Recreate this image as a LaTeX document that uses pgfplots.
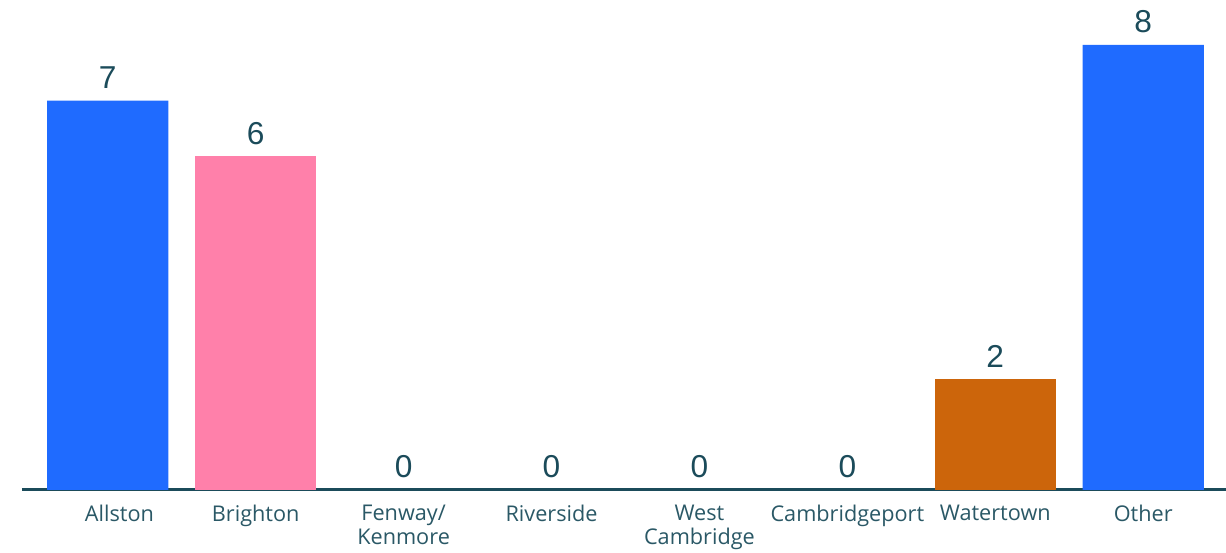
\documentclass[border=0pt]{standalone}
\usepackage{pgfplots}
\pgfplotsset{compat=1.18}
\usepackage{fontspec}
\setmainfont{Open Sans}
\newfontfamily\numfont{Liberation Sans}
\definecolor{cblue}{HTML}{1F6BFF}
\definecolor{cpink}{HTML}{FF80AA}
\definecolor{corange}{HTML}{CC650B}
\definecolor{axisc}{HTML}{1B4B5A}
\definecolor{labc}{HTML}{2A5866}
\begin{document}
\begin{tikzpicture}[x=1pt,y=1pt]
\begin{axis}[
  scale only axis,
  width=722.4pt, height=267pt,
  xmin=-0.58, xmax=7.56, ymin=0, ymax=8,
  axis x line*=bottom, axis y line=none,
  x axis line style={draw=axisc, line width=1.8pt, -},
  xtick={0,...,7},
  xticklabels={\hspace*{14pt}Allston,Brighton,{Fenway/\\Kenmore},Riverside,{West\\Cambridge},Cambridgeport,Watertown,Other},
  xticklabel style={align=center, text=labc, font=\fontsize{13}{14.5}\selectfont, anchor=north, yshift=-5.5pt},
  major tick length=0pt,
  ybar, bar width=0.82, bar shift=0pt,
  nodes near coords,
  /pgf/number format/assume math mode=true,
  every node near coord/.append style={text=axisc, font=\numfont\fontsize{19}{19}\selectfont, yshift=3.5pt},
  clip=false,
]
\addplot[fill=cblue, draw=none] coordinates {(0,7) (7,8)};
\addplot[fill=cpink, draw=none] coordinates {(1,6)};
\addplot[fill=corange, draw=none] coordinates {(6,2)};
\addplot[fill=none, draw=none] coordinates {(2,0) (3,0) (4,0) (5,0)};
\coordinate (bl) at (rel axis cs:0,0);
\coordinate (tr) at (rel axis cs:1,1);
\end{axis}
\pgfresetboundingbox
\path ([xshift=-13.2pt,yshift=-37.8pt]bl) rectangle ([yshift=27pt]tr);
\end{tikzpicture}
\end{document}
